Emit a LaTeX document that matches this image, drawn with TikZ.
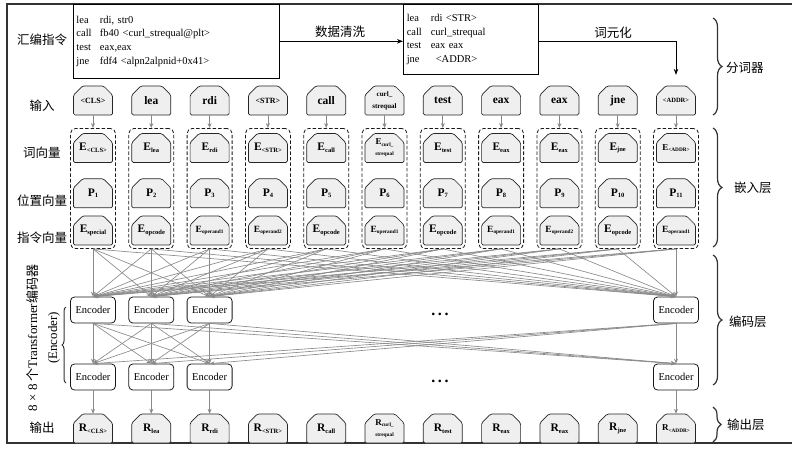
\documentclass[tikz,border=0pt]{standalone}
\usepackage{fontspec}
\setmainfont{Liberation Serif}
\newfontfamily\cjk{Noto Sans CJK SC}
\usetikzlibrary{arrows.meta,decorations.pathreplacing,calc}
\definecolor{tokfill}{HTML}{EFEFEF}
\definecolor{conncol}{HTML}{8A8A8A}
\definecolor{framecol}{HTML}{333333}
\newcommand\tsub[1]{\raisebox{-1.6pt}{\fontsize{6.5}{7}\selectfont #1}}
\newcommand\tsubs[1]{\raisebox{-1.4pt}{\fontsize{5.3}{6}\selectfont #1}}
\newcommand\tok[4]{%
  \filldraw[tokline,shift={(#2,#3)}] (-19.5,14.5) -- (-19.5,-5.5) -- (-10.5,-14.5) -- (10.5,-14.5) -- (19.5,-5.5) -- (19.5,14.5) -- cycle;
  \node[toktext] (#1) at (#2,#3) {#4};
}
\tikzset{
  tokline/.style={draw=black!85, fill=tokfill, line width=0.7pt, rounded corners=1.5pt},
  toktext/.style={inner sep=0pt, minimum width=39pt, minimum height=29pt, align=center, font=\bfseries\fontsize{11.5}{12}\selectfont},
  grp/.style={draw=black!90, dash pattern=on 3.5pt off 2pt, rounded corners=5pt, line width=0.8pt, minimum width=45pt, minimum height=120pt, inner sep=0pt},
  enc/.style={draw=black!90, rounded corners=4pt, line width=0.8pt, minimum width=45pt, minimum height=26pt, inner sep=0pt, font=\fontsize{10.5}{12}\selectfont, fill=white},
  conn/.style={draw=conncol, line width=0.65pt, -{Stealth[length=5pt,width=4pt]}},
  blkarrow/.style={draw=black, line width=0.8pt, -{Stealth[length=6pt,width=4.5pt]}},
  asmbox/.style={draw=black, line width=0.9pt, inner xsep=3.3pt, inner ysep=0pt, align=left, font=\fontsize{10.5}{13.7}\selectfont},
  cjklab/.style={font=\cjk\fontsize{12.5}{14}\selectfont, inner sep=0pt},
  bracedeco/.style={draw=framecol, line width=1.2pt, decorate, decoration={brace, amplitude=#1}},
}
\begin{document}
\begin{tikzpicture}[x=1pt,y=-1pt]
\useasboundingbox (0,0) rectangle (792,448);
% frame
\draw[framecol, line width=1.2pt] (792,4) -- (7,4) -- (7,443) -- (792,443);

% assembly boxes
\node[asmbox, text width=199.7pt, minimum height=73.7pt, anchor=north west] (asm1) at (72.7,4)
 {\makebox[23.5pt][l]{lea}rdi, str0\\
  \makebox[23.5pt][l]{call}fb40 <curl\_strequal@plt>\\
  \makebox[23.5pt][l]{test}eax,eax\\
  \makebox[23.5pt][l]{jne}fdf4 <alpn2alpnid+0x41>};
\node[asmbox, text width=128.1pt, minimum height=70pt, anchor=north west] (asm2) at (403,4)
 {\makebox[24pt][l]{lea}rdi <STR>\\
  \makebox[24pt][l]{call}curl\_strequal\\
  \makebox[24pt][l]{test}eax eax\\
  \makebox[24pt][l]{jne}\hspace{5pt}<ADDR>};
\node[cjklab] (lbl1) at (340,32) {数据清洗};
\node[cjklab] (lbl2) at (613,33) {词元化};

% left labels
\node[cjklab] (lasm) at (42,40) {汇编指令};
\node[cjklab] (lin) at (42,106) {输入};
\node[cjklab] (lword) at (42,153) {词向量};
\node[cjklab] (lpos) at (42,201) {位置向量};
\node[cjklab] (linst) at (42,238) {指令向量};
\node[cjklab] (lout) at (42,428) {输出};
\node[rotate=90, align=center, font=\fontsize{13}{20}\selectfont, inner sep=0pt] (lenc) at (43,338)
 {8 × 8 {\cjk 个}Transformer{\cjk 编码器}\\(Encoder)};

% tokens: input
\foreach \t [count=\i] in {{\fontsize{8}{9}\selectfont <CLS>},lea,rdi,{\fontsize{8}{9}\selectfont <STR>},call,{\fontsize{7}{8.5}\selectfont curl\_\\\fontsize{7}{8.5}\selectfont strequal},test,eax,eax,jne,{\fontsize{6.5}{8}\selectfont <ADDR>}}{
  \pgfmathsetmacro\xx{93+(\i-1)*58.3}
  \tok{in\i}{\xx}{100.5}{\t}
  \node[grp] (g\i) at (\xx,188.5) {};
}
% word vectors
\foreach \t [count=\i] in {{E\tsub{<CLS>}},{E\tsub{lea}},{E\tsub{rdi}},{E\tsub{<STR>}},{E\tsub{call}},{\fontsize{9}{10}\selectfont E\tsubs{curl\_}\\[-1pt]\fontsize{5.3}{6}\selectfont strequal},{E\tsub{test}},{E\tsub{eax}},{E\tsub{eax}},{E\tsub{jne}},{\fontsize{9}{10}\selectfont E\tsubs{<ADDR>}}}{
  \pgfmathsetmacro\xx{93+(\i-1)*58.3}
  \tok{w\i}{\xx}{148}{\t}
}
% position vectors
\foreach \i in {1,...,11}{
  \pgfmathsetmacro\xx{93+(\i-1)*58.3}
  \tok{p\i}{\xx}{193.3}{P\tsub{\i}}
}
% instruction vectors
\foreach \t [count=\i] in {{E\tsub{special}},{E\tsub{opcode}},{\fontsize{9.5}{10}\selectfont E\tsubs{operand1}},{\fontsize{9.5}{10}\selectfont E\tsubs{operand2}},{E\tsub{opcode}},{\fontsize{9.5}{10}\selectfont E\tsubs{operand1}},{E\tsub{opcode}},{\fontsize{9.5}{10}\selectfont E\tsubs{operand1}},{\fontsize{9.5}{10}\selectfont E\tsubs{operand2}},{E\tsub{opcode}},{\fontsize{9.5}{10}\selectfont E\tsubs{operand1}}}{
  \pgfmathsetmacro\xx{93+(\i-1)*58.3}
  \tok{s\i}{\xx}{230.5}{\t}
}
% outputs
\foreach \t [count=\i] in {{R\tsub{<CLS>}},{R\tsub{lea}},{R\tsub{rdi}},{R\tsub{<STR>}},{R\tsub{call}},{\fontsize{9}{10}\selectfont R\tsubs{curl\_}\\[-1pt]\fontsize{5.3}{6}\selectfont strequal},{R\tsub{test}},{R\tsub{eax}},{R\tsub{eax}},{R\tsub{jne}},{\fontsize{9}{10}\selectfont R\tsubs{<ADDR>}}}{
  \pgfmathsetmacro\xx{93+(\i-1)*58.3}
  \tok{o\i}{\xx}{428.5}{\t}
}
% encoders
\foreach \c/\n in {1/a,2/b,3/c,11/k}{
  \pgfmathsetmacro\xx{93+(\c-1)*58.3}
  \node[enc] (ea\n) at (\xx,310) {Encoder};
  \node[enc] (eb\n) at (\xx,377) {Encoder};
}
\node[font=\bfseries\fontsize{16}{16}\selectfont, inner sep=0pt] (dots1) at (440,314) {.\,.\,.};
\node[font=\bfseries\fontsize{16}{16}\selectfont, inner sep=0pt] (dots2) at (440,381) {.\,.\,.};

% connectors
\draw[blkarrow] (asm1.east) -- (asm1.east -| asm2.west);
\draw[blkarrow, shorten >=11pt] (asm2.east |- asm1.east) -| (in11.north);
\foreach \i in {1,...,11}{
  \draw[conn] (in\i.south) -- (g\i.north);
  \foreach \n in {a,b,c,k} \draw[conn] (g\i.south) -- (ea\n.north);
}
\foreach \m in {a,b,c,k}
  \foreach \n in {a,b,c,k} \draw[conn] (ea\m.south) -- (eb\n.north);
\draw[conn] (eba.south) -- (o1.north);
\draw[conn] (ebb.south) -- (o2.north);
\draw[conn] (ebc.south) -- (o3.north);
\draw[conn] (ebk.south) -- (o11.north);

% braces
\coordinate (b1s) at (713,18); \coordinate (b1e) at (713,115);
\coordinate (b2s) at (713,128); \coordinate (b2e) at (713,247);
\coordinate (b3s) at (713,255); \coordinate (b3e) at (713,385);
\coordinate (b4s) at (713,407); \coordinate (b4e) at (713,442);
\coordinate (b5s) at (66,383); \coordinate (b5e) at (66,307);
\draw[bracedeco=9pt] (b1s) -- (b1e);
\draw[bracedeco=9pt] (b2s) -- (b2e);
\draw[bracedeco=9pt] (b3s) -- (b3e);
\draw[bracedeco=8pt] (b4s) -- (b4e);
\draw[bracedeco=4pt, line width=1pt] (b5s) -- (b5e);
\node[cjklab, anchor=west] (r1) at (726,68) {分词器};
\node[cjklab, anchor=west] (r2) at (734,188) {嵌入层};
\node[cjklab, anchor=west] (r3) at (729,322) {编码层};
\node[cjklab, anchor=west] (r4) at (727,425) {输出层};
\end{tikzpicture}
\end{document}
